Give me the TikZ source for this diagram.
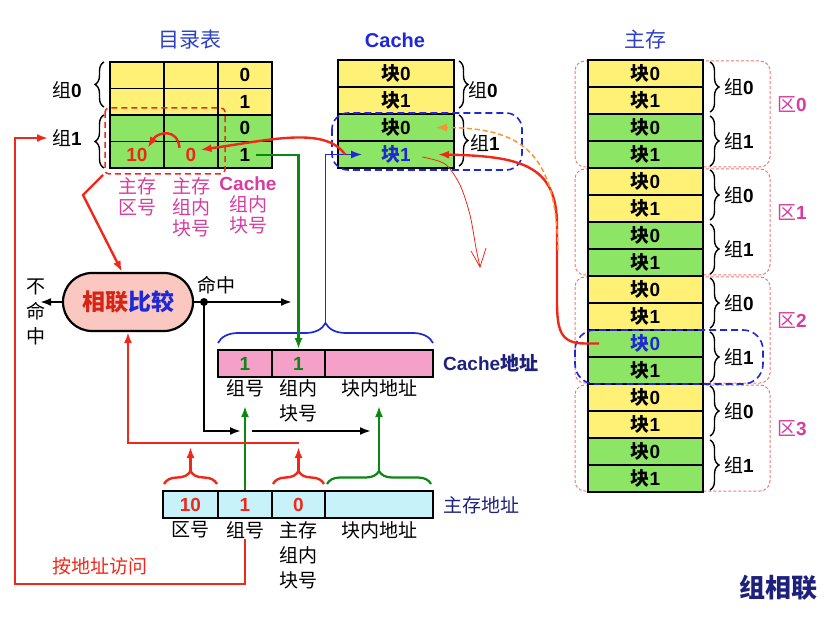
\documentclass[tikz,border=0pt]{standalone}
\usepackage{fontspec}
\setmainfont{Liberation Sans}
\newfontfamily\zh{Noto Sans CJK SC}
\usepackage{tikz}
\usetikzlibrary{arrows.meta,shapes.misc,decorations.pathreplacing}

\definecolor{ylw}{RGB}{255,241,118}
\definecolor{grn}{RGB}{140,229,100}
\definecolor{cpink}{RGB}{245,160,200}
\definecolor{mcyan}{RGB}{200,242,250}
\definecolor{cmpfill}{RGB}{250,200,192}
\definecolor{hred}{RGB}{240,40,25}
\definecolor{hgreen}{RGB}{10,135,20}
\definecolor{hblue}{RGB}{30,40,215}
\definecolor{ttlblue}{RGB}{45,65,200}
\definecolor{navy}{RGB}{30,32,125}
\definecolor{mag}{RGB}{215,60,160}
\definecolor{regred}{RGB}{240,120,120}
\definecolor{orng}{RGB}{245,150,50}

\newcommand\bnum[1]{{\rmfamily\bfseries #1}}
\newcommand\blk[1]{{\bfseries 块}\bnum{#1}}

\begin{document}
\begin{tikzpicture}[x=1pt,y=-1pt,
    every node/.style={inner sep=0pt, font=\zh\fontsize{19}{21}\selectfont},
    cell/.style={draw, line width=1.8pt, minimum height=27pt},
    lbl/.style={align=center, anchor=north, font=\zh\fontsize{19}{25}\selectfont},
    brc/.style={decorate, decoration={brace, amplitude=9pt}, line width=1.4pt},
    arr/.style={-{Latex[length=11pt,width=8pt]}},
    redln/.style={hred, line width=2.4pt},
    grnln/.style={hgreen, line width=2.2pt},
    blkln/.style={black, line width=2.2pt},
    bluln/.style={hblue, line width=1.7pt},
    reddash/.style={hred, line width=1.5pt, dash pattern=on 6pt off 4pt},
    bludash/.style={hblue, line width=1.6pt, dash pattern=on 7pt off 4pt},
    regbox/.style={regred, line width=1pt, dash pattern=on 3pt off 2pt, rounded corners=10pt},
    cmp/.style={rounded rectangle, draw, line width=2.2pt, fill=cmpfill,
        minimum width=130pt, minimum height=58pt, font=\zh\bfseries\fontsize{23}{25}\selectfont}]
    \useasboundingbox (0,0) rectangle (835,617);

    % titles
    \node[text=ttlblue, font=\zh\fontsize{21}{21}\selectfont] (tdir) at (190,40) {目录表};
    \node[text=hblue, font=\rmfamily\bfseries\fontsize{20}{20}\selectfont] (tcache) at (395,40) {Cache};
    \node[text=ttlblue, font=\zh\fontsize{21}{21}\selectfont] (tmem) at (645,40) {主存};

    % directory table
    \foreach \r/\fc in {1/ylw,2/ylw,3/grn,4/grn}
        \foreach \c in {1,2,3}
            \node[cell, minimum width=54pt, minimum height=26.5pt, fill=\fc] (d\r\c) at ({83+54*\c},{48.75+26.5*\r}) {};
    \foreach \r/\v in {1/0,2/1,3/0,4/1}
        \node (dv\r) at (d\r3) {\bnum{\v}};
    \node[text=hred] (tag) at (d41) {\bnum{10}};
    \node[text=hred] (tagb) at (d42) {\bnum{0}};
    \draw[reddash, rounded corners=4pt] (105,108) rectangle (225,174);
    \coordinate (dbox) at (103,175);
    \draw[brc] (104,107) -- (104,62);
    \draw[brc] (104,168) -- (104,115);
    \node[anchor=east] (g0) at (82,90) {组\bnum{0}};
    \node[anchor=east] (g1) at (82,138) {组\bnum{1}};
    \node[lbl, text=mag, font=\zh\fontsize{19}{21}\selectfont] (dl1) at (137,177) {主存\\区号};
    \node[lbl, text=mag, font=\zh\fontsize{19}{21}\selectfont] (dl2) at (191,177) {主存\\组内\\块号};
    \node[lbl, text=mag, font=\zh\fontsize{19}{21}\selectfont] (dl3) at (248,177) {\bnum{Cache}\\组内\\块号};

    % cache
    \foreach \r/\fc/\b/\tc in {1/ylw/0/black,2/ylw/1/black,3/grn/0/black,4/grn/1/hblue}
        \node[cell, minimum width=116pt, fill=\fc, text=\tc] (c\r) at (396,{46.5+27*\r}) {\blk{\b}};
    \draw[brc] (459,61) -- (459,108);
    \draw[brc] (459,115) -- (459,166);
    \node[anchor=west] (cg0) at (468,90) {组\bnum{0}};
    \node[anchor=west] (cg1) at (470,143) {组\bnum{1}};
    \draw[bludash, rounded corners=16pt] (332,113) rectangle (522,170);

    % main memory
    \foreach \r in {0,...,3}{
        \draw[regbox] (575,{61+108*\r}) rectangle (770,{167+108*\r});
        \node[text=mag] (reg\r) at (792,{105+108*\r}) {区\bnum{\r}};
    }
    \foreach \k in {0,...,15}{
        \pgfmathtruncatemacro\b{mod(\k,2)}
        \pgfmathtruncatemacro\g{mod(\k,4)>1}
        \ifnum\g=0 \def\fc{ylw}\else\def\fc{grn}\fi
        \ifnum\k=10 \def\tc{hblue}\else\def\tc{black}\fi
        \node[cell, minimum width=115pt, fill=\fc, text=\tc] (m\k) at (645.5,{73.5+27*\k}) {\blk{\b}};
    }
    \foreach \j in {0,...,7}{
        \pgfmathtruncatemacro\g{mod(\j,2)}
        \draw[brc] (710,{62+54*\j}) -- (710,{112+54*\j});
        \node[anchor=west] (mg\j) at (724,{87+54*\j}) {组\bnum{\g}};
    }
    \draw[bludash, rounded corners=20pt] (575,330) rectangle (763,384);

    % compare
    \node[cmp] (cmp) at (128,302) {\textcolor{hred!90!black}{相联}\textcolor{hblue}{比较}};
    \node (hitlbl) at (216,285) {命中};
    \node[align=center, font=\zh\fontsize{19}{25}\selectfont] (miss) at (36,312) {不\\命\\中};

    % cache address
    \node[cell, minimum width=54pt, fill=cpink, text=hgreen] (ca1) at (245,363.5) {\bnum{1}};
    \node[cell, minimum width=53pt, fill=cpink, text=hgreen] (ca2) at (298.5,363.5) {\bnum{1}};
    \node[cell, minimum width=108pt, fill=cpink] (ca3) at (379,363.5) {};
    \node[anchor=west, text=navy, font=\zh\bfseries\fontsize{19}{21}\selectfont] (catxt) at (443,363) {\bnum{Cache}地址};
    \node[lbl] (cl1) at (245,379) {组号};
    \node[lbl] (cl2) at (298.5,379) {组内\\块号};
    \node[lbl] (cl3) at (379,379) {块内地址};
    \draw[bluln, decorate, decoration={brace, amplitude=20pt}] (218,343) -- (433,343);
    \coordinate (cbr) at (325.5,323);

    % main memory address
    \node[cell, minimum width=55pt, fill=mcyan, text=hred] (ma1) at (190.5,504.5) {\bnum{10}};
    \node[cell, minimum width=54pt, fill=mcyan, text=hred] (ma2) at (245,504.5) {\bnum{1}};
    \node[cell, minimum width=53pt, fill=mcyan, text=hred] (ma3) at (298.5,504.5) {\bnum{0}};
    \node[cell, minimum width=108pt, fill=mcyan] (ma4) at (379,504.5) {};
    \node[anchor=west, text=navy] (matxt) at (443,505) {主存地址};
    \node[lbl] (ml1) at (190.5,521) {区号};
    \node[lbl] (ml2) at (245,521) {组号};
    \node[lbl] (ml3) at (298.5,521) {主存\\组内\\块号};
    \node[lbl] (ml4) at (379,521) {块内地址};
    \draw[redln, decorate, decoration={brace, amplitude=13pt}] (164,484) -- (217,484);
    \draw[redln, decorate, decoration={brace, amplitude=13pt}] (273,484) -- (324,484);
    \draw[grnln, decorate, decoration={brace, amplitude=13pt}] (327,484) -- (431,484);
    \node[text=hred] (visit) at (100,566) {按地址访问};
    \node[text=navy, font=\zh\bfseries\fontsize{26}{26}\selectfont] (kind) at (778,588) {组相联};

    % connectors
    \draw[grnln, arr] ([xshift=6pt]dv4.east) -| (ca2.north);
    \draw[bluln, arr] (cbr) |- ([xshift=25pt]c4.west);
    \draw[redln, arr] ([xshift=8pt]c4.west) .. controls (325,126) and (270,140) .. ([xshift=4pt,yshift=5pt]tagb.east);
    \draw[redln, arr] ([xshift=-6pt]tagb.north west) .. controls +(-2,-20) and +(10,-16) .. (tag.north east);
    \draw[redln, arr] (dbox) -- (83,195) -- ([xshift=-6pt]cmp.north);
    \draw[redln, arr] ([xshift=12pt]m10.west) -- (585,343.5) .. controls (560,343.5) and (557,330) .. (557,300)
        -- (557,225) .. controls (557,165) and (520,156) .. ([xshift=-17pt]c4.east);
    \draw[orng, line width=1.5pt, dash pattern=on 5pt off 3pt, arr] (558,250) .. controls (556,150) and (520,128) .. ([xshift=-19pt]c3.east);
    \draw[hred, line width=0.8pt] plot[smooth] coordinates {(422,157) (445,164) (460,185) (470,215) (476,248) (480,267)};
    \draw[hred, line width=0.8pt] (471,251) -- (480,267) -- (486,248);

    \coordinate (hit) at (204,302);
    \draw[blkln] (cmp.east) -- (hit);
    \draw[blkln, arr] (hit) -- (292,302);
    \draw[blkln, arr] (hit) |- (241,431);
    \draw[blkln, arr] (252,431) -- (371,431);
    \fill (hit) circle (4);
    \draw[blkln, arr] (cmp.west) -- (40,302);

    \draw[grnln, arr] (ma2.north) -- (245,406);
    \draw[grnln, arr] (379,471) -- (379,406);
    \draw[redln, arr] (190.5,471) -- (190.5,447);
    \draw[redln, arr] (298.5,471) -- (298.5,447);
    \draw[redln, arr] (298.5,443) -| (cmp.south);
    \draw[redln, arr] (ml2.south) |- (15,584) |- ([xshift=-4pt]g1.west);
\end{tikzpicture}
\end{document}
